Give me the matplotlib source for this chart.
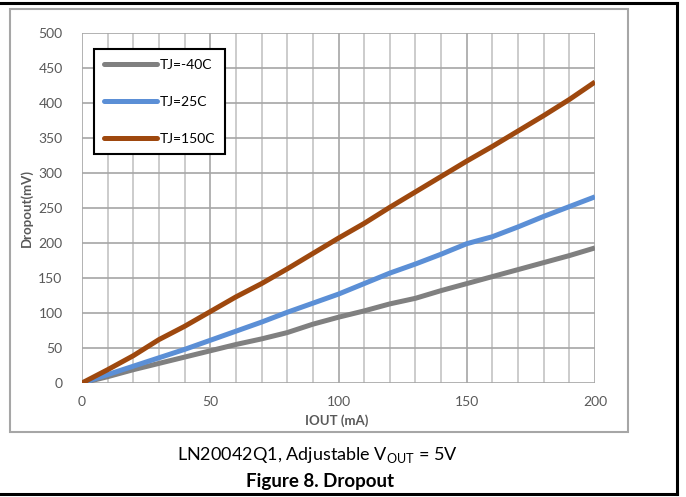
import numpy as np
import matplotlib.pyplot as plt
from matplotlib.lines import Line2D
from matplotlib.patches import Rectangle

plt.rcParams['font.family'] = ['Lato', 'DejaVu Sans']
plt.rcParams['mathtext.fontset'] = 'custom'
plt.rcParams['mathtext.rm'] = 'Lato'

# Data
iout = [0, 10, 20, 30, 40, 50, 60, 70, 80, 90, 100,
        110, 120, 130, 140, 150, 160, 170, 180, 190, 200]
tj_m40 = [0, 9, 19, 28, 37, 46, 55, 63, 72, 84, 94,
          103, 113, 121, 132, 142, 152, 162, 172, 182, 193]
tj_25 = [0, 12, 24, 36, 48, 61, 74, 87, 101, 114, 127,
         142, 157, 170, 184, 199, 209, 223, 238, 252, 266]
tj_150 = [0, 19, 39, 62, 81, 102, 123, 142, 163, 185, 207,
          228, 251, 273, 295, 317, 338, 360, 382, 405, 430]
labels = ['TJ=-40C', 'TJ=25C', 'TJ=150C']
colors = ['#808080', '#5b8fd6', '#9e480e']

W, H = 686, 497
fig = plt.figure(figsize=(W / 100, H / 100), dpi=100)

# plot area in pixels: x 82..595, y 33..383
ax = fig.add_axes([82 / W, 1 - 383 / H, (595 - 82) / W, (383 - 33) / H])

# grid
for x in range(0, 201, 10):
    c = '#a6a6a6' if x % 50 == 0 else '#c4c4c4'
    ax.axvline(x, color=c, lw=1.2, zorder=1)
for y in range(0, 501, 50):
    ax.axhline(y, color='#a6a6a6', lw=1.2, zorder=1)

for ys, lab, col in zip([tj_m40, tj_25, tj_150], labels, colors):
    ax.plot(iout, ys, color=col, lw=3.6, label=lab, zorder=3,
            solid_capstyle='butt', solid_joinstyle='round')

ax.set_xlim(0, 200)
ax.set_ylim(0, 500)
ax.set_xticks(range(0, 201, 50))
ax.set_yticks(range(0, 501, 50))
for s in ax.spines.values():
    s.set_visible(False)
ax.tick_params(length=0, labelsize=10, labelcolor='#595959')
ax.tick_params(axis='y', pad=14)
ax.tick_params(axis='x', pad=9)

fig.text(27 / W, 1 - 208 / H, 'Dropout(mV)', rotation=90, ha='center', va='center',
         fontsize=9.5, fontweight='bold', color='#595959')
fig.text(337 / W, 1 - 421 / H, 'IOUT (mA)', ha='center', va='center',
         fontsize=9.5, fontweight='bold', color='#595959')

handles = [Line2D([], [], color=c, lw=3.6, solid_capstyle='round') for c in colors]
leg = ax.legend(handles, labels, loc='upper left',
                bbox_to_anchor=((94 - 82) / 513, (383 - 49) / 350),
                borderaxespad=0, fontsize=10, handlelength=3.8, handletextpad=0.2,
                labelspacing=1.8, borderpad=0.7, fancybox=False, framealpha=1,
                edgecolor='black')
leg.get_frame().set_linewidth(1.5)
leg.set_zorder(5)

# chart border and outer frame
fig.add_artist(Rectangle((10 / W, 1 - 432 / H), 618 / W, 423 / H, transform=fig.transFigure,
                         fill=False, edgecolor='#a6a6a6', lw=1.5))
fig.add_artist(Line2D([0, 677 / W], [1 - 3 / H, 1 - 3 / H], color='black', lw=2.2,
                      transform=fig.transFigure))
fig.add_artist(Line2D([677 / W, 677 / W], [1 - 3 / H, 1 - 494 / H], color='black', lw=2.2,
                      transform=fig.transFigure))
fig.add_artist(Line2D([0, 677 / W], [1 - 494 / H, 1 - 494 / H], color='black', lw=2.2,
                      transform=fig.transFigure))

fig.text(317 / W, 1 - 455 / H, r'LN20042Q1, Adjustable V$_{\mathrm{OUT}}$ = 5V',
         ha='center', va='center', fontsize=13)
fig.text(320 / W, 1 - 481 / H, 'Figure 8. Dropout', ha='center', va='center',
         fontsize=13.5, fontweight='bold')

fig.savefig('out.png', dpi=100)
